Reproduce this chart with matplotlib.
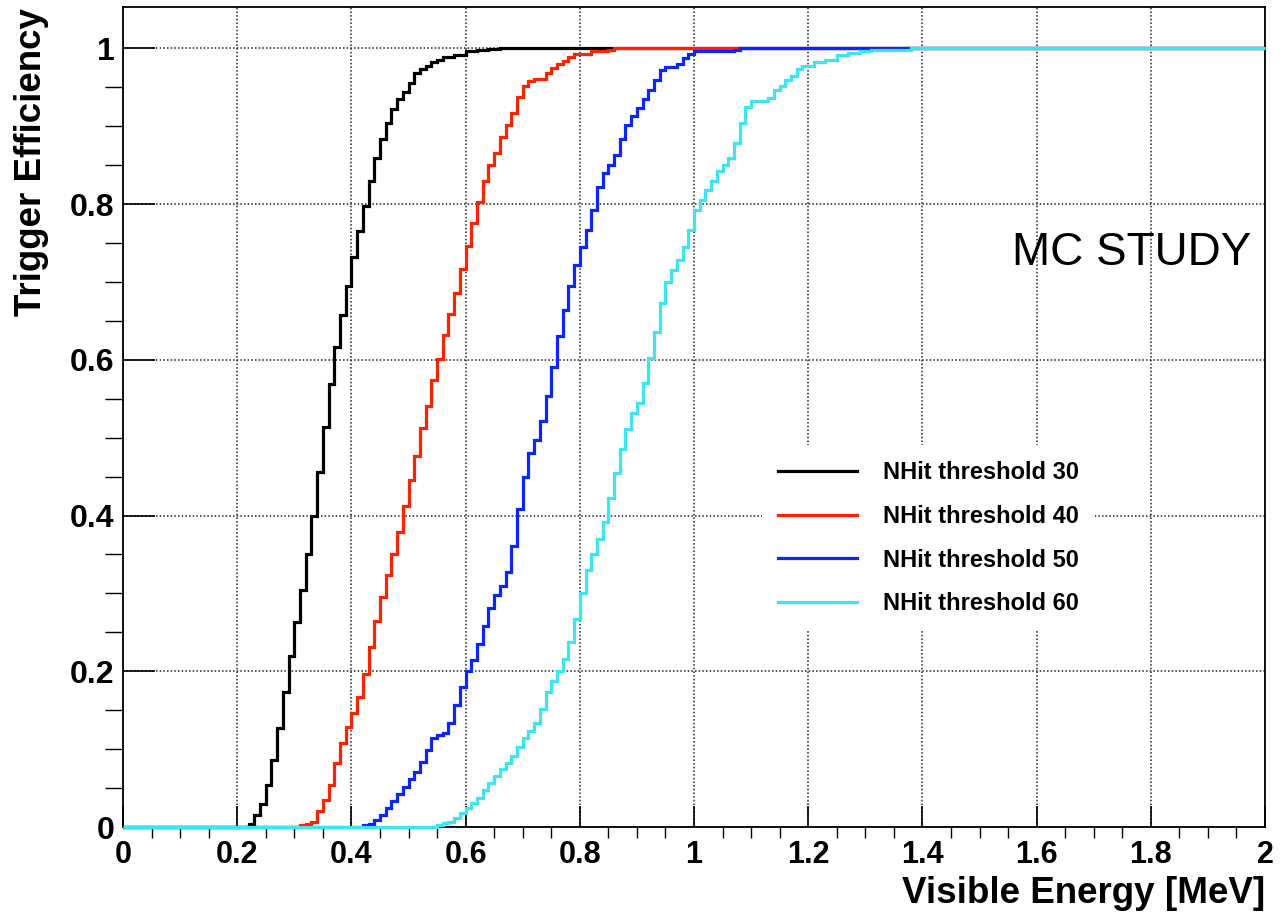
import numpy as np
import matplotlib
matplotlib.use('Agg')
import matplotlib.pyplot as plt

plt.rcParams['font.family'] = ['Liberation Sans', 'DejaVu Sans']

# bin edges: 200 bins of 0.01 MeV
edges = np.linspace(0, 2, 201)

# efficiency per bin, starting at the given energy
# (bins before start are 0, bins after the list are 1)
black_start = 0.22
black_eff = [0.004, 0.015, 0.03, 0.054, 0.086, 0.127, 0.174, 0.22, 0.263, 0.304,
             0.351, 0.40, 0.456, 0.514, 0.569, 0.617, 0.657, 0.695, 0.732, 0.765,
             0.797, 0.829, 0.859, 0.884, 0.904, 0.922, 0.935, 0.944, 0.956, 0.968,
             0.973, 0.977, 0.982, 0.985, 0.989, 0.989, 0.991, 0.991, 0.996, 0.996,
             0.998, 0.998, 0.999, 0.999]

red_start = 0.31
red_eff = [0.002, 0.004, 0.007, 0.02, 0.035, 0.054, 0.082, 0.108, 0.128, 0.146,
           0.167, 0.196, 0.231, 0.265, 0.295, 0.324, 0.351, 0.379, 0.412, 0.445,
           0.477, 0.512, 0.541, 0.574, 0.601, 0.632, 0.659, 0.686, 0.716, 0.746,
           0.775, 0.803, 0.829, 0.85, 0.866, 0.886, 0.902, 0.917, 0.938, 0.951,
           0.958, 0.96, 0.96, 0.968, 0.975, 0.98, 0.984, 0.989, 0.993, 0.993,
           0.993, 0.996, 0.996, 0.996, 0.998]

blue_start = 0.42
blue_eff = [0.002, 0.004, 0.009, 0.016, 0.024, 0.033, 0.043, 0.052, 0.061, 0.07,
            0.084, 0.099, 0.114, 0.118, 0.121, 0.133, 0.157, 0.18, 0.20, 0.215,
            0.235, 0.258, 0.281, 0.298, 0.309, 0.328, 0.361, 0.408, 0.449, 0.48,
            0.497, 0.521, 0.553, 0.591, 0.63, 0.664, 0.695, 0.722, 0.745, 0.767,
            0.792, 0.822, 0.84, 0.85, 0.863, 0.884, 0.902, 0.913, 0.923, 0.935,
            0.946, 0.959, 0.972, 0.976, 0.976, 0.98, 0.987, 0.993, 0.996, 0.996,
            0.996, 0.996, 0.996, 0.996, 0.997, 0.998]

cyan_start = 0.55
cyan_eff = [0.003, 0.005, 0.007, 0.0115, 0.018, 0.024, 0.031, 0.037, 0.048, 0.056,
            0.065, 0.074, 0.082, 0.091, 0.103, 0.114, 0.123, 0.133, 0.151, 0.174,
            0.187, 0.20, 0.216, 0.237, 0.267, 0.30, 0.33, 0.351, 0.37, 0.392,
            0.422, 0.454, 0.485, 0.511, 0.531, 0.544, 0.57, 0.602, 0.636, 0.673,
            0.70, 0.715, 0.728, 0.745, 0.767, 0.792, 0.805, 0.818, 0.829, 0.842,
            0.85, 0.859, 0.878, 0.904, 0.925, 0.932, 0.932, 0.932, 0.936, 0.946,
            0.952, 0.959, 0.965, 0.974, 0.977, 0.977, 0.982, 0.982, 0.985, 0.985,
            0.991, 0.991, 0.994, 0.994, 0.997, 0.997, 0.998, 0.998, 0.998, 0.998,
            0.998, 0.998, 0.998]

labels = ['NHit threshold 30', 'NHit threshold 40', 'NHit threshold 50', 'NHit threshold 60']
colors = ['black', '#ff2200', '#0a26ff', '#3ce6ee']

xticks = [0, 0.2, 0.4, 0.6, 0.8, 1.0, 1.2, 1.4, 1.6, 1.8, 2.0]
xtick_labels = ['0', '0.2', '0.4', '0.6', '0.8', '1', '1.2', '1.4', '1.6', '1.8', '2']
yticks = [0, 0.2, 0.4, 0.6, 0.8, 1.0]
ytick_labels = ['0', '0.2', '0.4', '0.6', '0.8', '1']


def full_hist(start, vals):
    h = np.ones(len(edges) - 1)
    i0 = int(round(start / 0.01))
    h[:i0] = 0
    h[i0:i0 + len(vals)] = vals
    return h


curves = [(black_start, black_eff), (red_start, red_eff),
          (blue_start, blue_eff), (cyan_start, cyan_eff)]

fig = plt.figure(figsize=(12.8, 9.13), dpi=100)
ax = fig.add_axes([123 / 1280, 1 - 827 / 913, (1265 - 123) / 1280, (827 - 7) / 913])

for (start, vals), lab, col in zip(curves, labels, colors):
    ax.stairs(full_hist(start, vals), edges, color=col, lw=2.3, label=lab,
              baseline=None, clip_on=False, zorder=3)

ax.set_xlim(0, 2)
ax.set_ylim(0, 1.053)
ax.set_xticks(xticks)
ax.set_xticklabels(xtick_labels)
ax.set_yticks(yticks)
ax.set_yticklabels(ytick_labels)
ax.set_xticks(np.arange(0, 2.0001, 0.05), minor=True)
ax.set_yticks(np.arange(0, 1.05, 0.05), minor=True)

ax.grid(True, which='major', color='#222222', linestyle=(0, (1, 1.4)), lw=1.1)
ax.tick_params(direction='in', top=False, right=False)
ax.tick_params(axis='x', which='major', length=15, width=1.2, pad=9)
ax.tick_params(axis='x', which='minor', length=8, width=1.0)
ax.tick_params(axis='y', which='major', length=23, width=1.2, pad=6)
ax.tick_params(axis='y', which='minor', length=13, width=1.0)
for lab in ax.get_xticklabels():
    lab.set_fontsize(22)
    lab.set_fontweight('bold')
for lab in ax.get_yticklabels():
    lab.set_fontsize(23)
    lab.set_fontweight('bold')
for sp in ax.spines.values():
    sp.set_linewidth(1.3)

fig.text(1265 / 1280, 1 - 903 / 913, 'Visible Energy [MeV]', ha='right', va='baseline',
         fontsize=26.5, fontweight='bold')
fig.text(0.025, 1 - 8 / 913, 'Trigger Efficiency', rotation=90, ha='center', va='top',
         fontsize=26.5, fontweight='bold')
ax.text(1.976, 0.722, 'MC STUDY', ha='right', va='baseline', fontsize=33)

leg = ax.legend(loc='upper left', bbox_to_anchor=(762 / 1280, 1 - 445 / 913),
                bbox_transform=fig.transFigure, frameon=True, fancybox=False,
                edgecolor='none', facecolor='white', framealpha=1,
                prop={'weight': 'bold', 'size': 17}, handlelength=3.35,
                handletextpad=1.1, labelspacing=0.88, borderpad=0.68, borderaxespad=0)
leg.set_zorder(5)

fig.savefig('out.png', dpi=100)
